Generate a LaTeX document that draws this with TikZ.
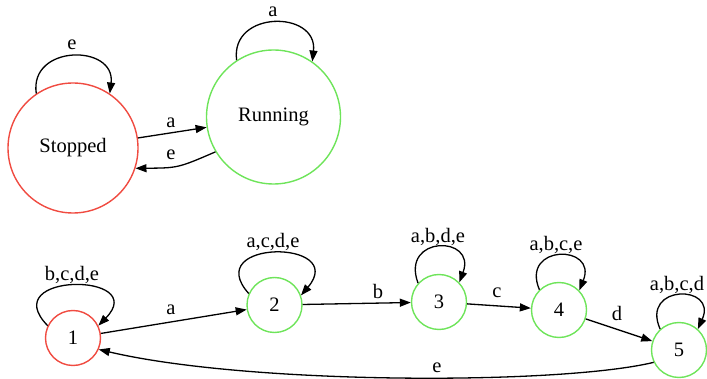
\documentclass[tikz,border=0pt]{standalone}
\usepackage{fontspec}
\setmainfont{Liberation Serif}
\usetikzlibrary{arrows.meta}
\definecolor{stopred}{RGB}{240,75,65}
\definecolor{rungreen}{RGB}{110,228,90}
\begin{document}
\begin{tikzpicture}[x=1pt,y=-1pt,
  font=\fontsize{20.5}{24}\selectfont,
  state/.style={circle,draw,line width=1.4pt,inner sep=0pt},
  startstate/.style={state,draw=stopred},
  runstate/.style={state,draw=rungreen},
  edge/.style={line width=1.3pt,-{Triangle[length=11pt,width=8pt]}},
  lbl/.style={inner sep=0pt}]
\useasboundingbox (0,0) rectangle (707,379);

% two-state machine
\node[startstate,minimum size=130pt] (S) at (73,148) {Stopped};
\node[runstate,minimum size=134pt] (R) at (273.5,117) {Running};

\draw[edge] (S.124) .. controls (29,44) and (116,44) .. (S.56);
\node[lbl] (le) at (72,45) {e};
\draw[edge] (R.123) .. controls (230,10) and (318,10) .. (R.55);
\node[lbl] (la) at (273,12) {a};
\draw[edge] (S) -- (R);
\node[lbl] (lsa) at (171,123) {a};
\draw[edge] (R.-149) .. controls (178,168) .. (S.-18);
\node[lbl] (lse) at (171,155) {e};

% five-state sequence machine
\node[startstate,minimum size=55pt] (n1) at (73,338) {1};
\node[runstate,minimum size=55pt] (n2) at (274.5,305) {2};
\node[runstate,minimum size=55pt] (n3) at (439,302) {3};
\node[runstate,minimum size=55pt] (n4) at (559,310) {4};
\node[runstate,minimum size=55pt] (n5) at (679,350) {5};

\draw[edge] (n1.154) .. controls (-5,272) and (151,272) .. (n1.26);
\node[lbl] (l1) at (72,275) {b,c,d,e};
\draw[edge] (n2.156) .. controls (200,239) and (349,239) .. (n2.20);
\node[lbl] (l2) at (273,242) {a,c,d,e};
\draw[edge] (n3.138) .. controls (400,235) and (477,235) .. (n3.44);
\node[lbl] (l3) at (438,237) {a,b,d,e};
\draw[edge] (n4.134) .. controls (520,244) and (598,244) .. (n4.44);
\node[lbl] (l4) at (556,245) {a,b,c,e};
\draw[edge] (n5.132) .. controls (640,284) and (718,284) .. (n5.48);
\node[lbl] (l5) at (677,285) {a,b,c,d};

\draw[edge] (n1) -- (n2);
\node[lbl] (e12) at (171,310) {a};
\draw[edge] (n2) -- (n3);
\node[lbl] (e23) at (378,291) {b};
\draw[edge] (n3) -- (n4);
\node[lbl] (e34) at (497,293) {c};
\draw[edge] (n4) -- (n5);
\node[lbl] (e45) at (617,313) {d};
\draw[edge] (n5.-154) .. controls (560,385) and (250,385) .. (n1.-24);
\node[lbl] (e51) at (437,368) {e};
\end{tikzpicture}
\end{document}
